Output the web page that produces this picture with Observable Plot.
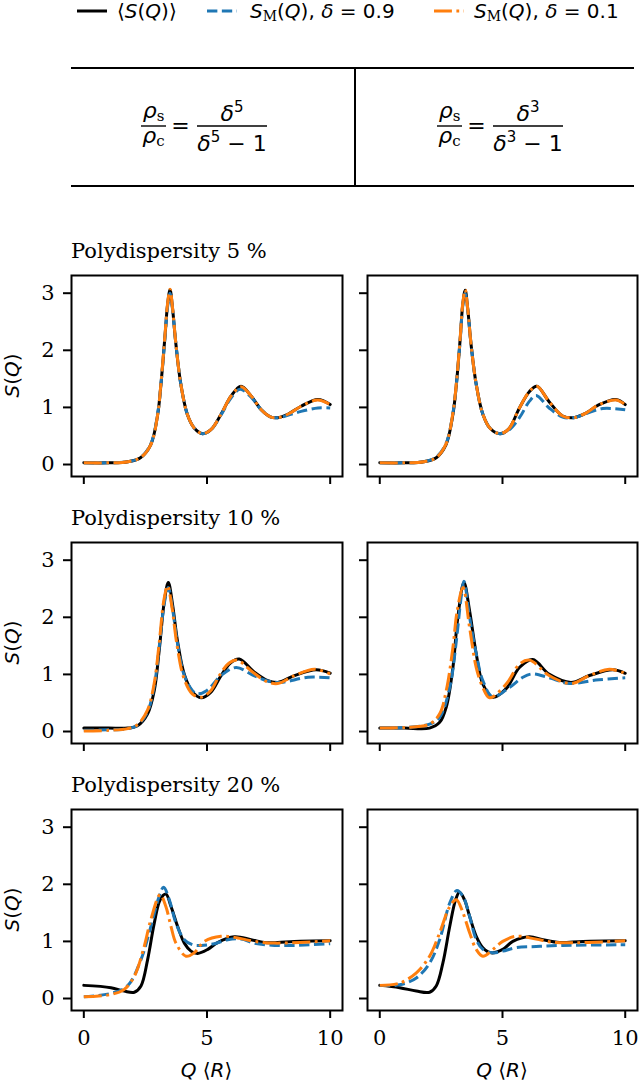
<!DOCTYPE html>
<html><head><meta charset="utf-8">
<script src="https://cdn.jsdelivr.net/npm/d3@7"></script>
<script src="https://cdn.jsdelivr.net/npm/@observablehq/plot@0.6"></script>
<style>
html,body{margin:0;padding:0;background:#fff;}
#root{position:relative;width:640px;height:1084px;overflow:hidden;background:#fff;}
#annot{position:absolute;left:0;top:0;pointer-events:none;}
</style></head><body><div id="root"></div>
<script>
// ---- Data: [Q, S(Q)] pairs ----
// Polydispersity 5 %, column delta^5
const black5L = [[0,0.03],[1,0.03],[1.8,0.05],[2.3,0.12],[2.72,0.35],[3.0,0.88],[3.13,1.4],[3.29,2.22],[3.4,2.8],[3.5,3.06],[3.6,2.74],[3.74,2.1],[3.94,1.4],[4.2,0.88],[4.48,0.64],[4.82,0.54],[5.16,0.61],[5.57,0.88],[5.98,1.2],[6.38,1.37],[6.79,1.2],[7.2,0.96],[7.6,0.83],[7.87,0.82],[8.28,0.88],[8.82,1.02],[9.5,1.14],[10,1.05]];
const blue5L = [[0,0.03],[1,0.03],[1.8,0.05],[2.3,0.12],[2.72,0.36],[3.0,0.9],[3.13,1.4],[3.29,2.2],[3.4,2.76],[3.5,3.0],[3.6,2.72],[3.74,2.1],[3.94,1.4],[4.2,0.88],[4.48,0.64],[4.82,0.54],[5.16,0.61],[5.57,0.87],[5.98,1.17],[6.34,1.32],[6.79,1.18],[7.2,0.96],[7.6,0.83],[7.87,0.82],[8.28,0.86],[8.82,0.93],[9.5,0.99],[10,0.99]];
const orange5L = [[0,0.03],[1,0.03],[1.8,0.05],[2.3,0.12],[2.72,0.35],[3.0,0.88],[3.13,1.42],[3.29,2.24],[3.4,2.82],[3.5,3.07],[3.6,2.75],[3.74,2.1],[3.94,1.4],[4.2,0.88],[4.48,0.64],[4.82,0.54],[5.16,0.61],[5.57,0.88],[5.98,1.2],[6.38,1.36],[6.79,1.2],[7.2,0.96],[7.6,0.83],[7.87,0.82],[8.28,0.88],[8.82,1.02],[9.5,1.13],[10,1.05]];
// Polydispersity 5 %, column delta^3
const black5R = [[0,0.03],[1,0.03],[1.8,0.05],[2.3,0.12],[2.7,0.35],[2.98,0.88],[3.12,1.4],[3.28,2.22],[3.38,2.8],[3.48,3.05],[3.58,2.74],[3.72,2.1],[3.93,1.4],[4.2,0.88],[4.5,0.63],[4.9,0.54],[5.25,0.62],[5.69,0.99],[6.1,1.28],[6.4,1.37],[6.9,1.1],[7.45,0.85],[7.9,0.82],[8.4,0.9],[8.9,1.04],[9.62,1.14],[10,1.05]];
const blue5R = [[0,0.03],[1,0.03],[1.8,0.05],[2.3,0.13],[2.7,0.37],[2.98,0.9],[3.12,1.4],[3.28,2.2],[3.38,2.78],[3.48,3.0],[3.58,2.72],[3.72,2.1],[3.93,1.4],[4.2,0.88],[4.5,0.63],[4.9,0.54],[5.25,0.6],[5.69,0.82],[6.1,1.11],[6.37,1.21],[6.9,0.99],[7.45,0.83],[7.9,0.82],[8.4,0.89],[9.08,0.98],[10,0.96]];
const orange5R = [[0,0.03],[1,0.03],[1.8,0.05],[2.3,0.12],[2.7,0.36],[2.98,0.9],[3.12,1.42],[3.28,2.24],[3.38,2.82],[3.48,3.06],[3.58,2.74],[3.72,2.1],[3.93,1.4],[4.2,0.88],[4.5,0.63],[4.9,0.54],[5.25,0.62],[5.69,0.99],[6.1,1.28],[6.4,1.37],[6.9,1.1],[7.45,0.85],[7.9,0.82],[8.4,0.9],[8.9,1.04],[9.62,1.13],[10,1.05]];
// Polydispersity 10 %, column delta^5
const black10L = [[0,0.06],[1,0.06],[1.78,0.06],[2.18,0.1],[2.59,0.31],[2.86,0.72],[3.06,1.42],[3.27,2.29],[3.43,2.61],[3.6,2.23],[3.8,1.59],[4.08,1.0],[4.42,0.69],[4.76,0.59],[5.16,0.69],[5.57,0.98],[5.95,1.2],[6.31,1.27],[6.92,1.04],[7.47,0.89],[7.87,0.86],[8.55,0.98],[9.43,1.08],[10,1.02]];
const blue10L = [[0,0.02],[1,0.03],[1.78,0.05],[2.18,0.11],[2.59,0.35],[2.86,0.8],[3.06,1.48],[3.27,2.25],[3.43,2.52],[3.6,2.15],[3.8,1.55],[4.08,0.98],[4.42,0.71],[4.62,0.66],[5.0,0.72],[5.57,0.98],[6.18,1.12],[6.9,0.98],[7.5,0.88],[8.0,0.86],[9.1,0.95],[10,0.94]];
const orange10L = [[0,0.01],[1,0.02],[1.78,0.05],[2.18,0.12],[2.59,0.38],[2.86,0.85],[3.06,1.55],[3.25,2.3],[3.4,2.55],[3.57,2.2],[3.78,1.52],[4.05,0.95],[4.4,0.66],[4.76,0.6],[5.16,0.72],[5.5,0.98],[5.9,1.2],[6.22,1.25],[6.8,1.06],[7.4,0.88],[7.87,0.84],[8.55,0.98],[9.36,1.09],[10,1.01]];
// Polydispersity 10 %, column delta^3
const black10R = [[0,0.06],[1,0.06],[2.03,0.06],[2.44,0.16],[2.71,0.43],[2.98,1.12],[3.18,2.0],[3.43,2.61],[3.66,2.11],[3.93,1.36],[4.2,0.83],[4.6,0.6],[5.15,0.75],[5.69,1.12],[6.23,1.26],[6.91,1.0],[7.79,0.86],[8.54,0.98],[9.49,1.08],[10,1.02]];
const blue10R = [[0,0.06],[1,0.07],[2.03,0.13],[2.44,0.25],[2.85,0.77],[3.12,1.59],[3.3,2.3],[3.43,2.63],[3.66,2.0],[3.93,1.36],[4.2,0.89],[4.6,0.61],[5.28,0.77],[5.83,0.95],[6.23,1.01],[6.91,0.94],[7.72,0.84],[8.8,0.9],[10,0.94]];
const orange10R = [[0,0.06],[1,0.07],[2.03,0.13],[2.44,0.31],[2.71,0.72],[2.98,1.47],[3.15,2.1],[3.39,2.52],[3.66,1.82],[3.93,1.12],[4.2,0.77],[4.47,0.59],[5.15,0.83],[5.69,1.18],[6.1,1.25],[6.9,0.98],[7.79,0.84],[8.54,0.98],[9.35,1.09],[10,1.02]];
// Polydispersity 20 %, column delta^5
const black20L = [[0,0.23],[1.1,0.19],[1.64,0.13],[2.05,0.11],[2.32,0.22],[2.59,0.68],[2.86,1.32],[3.1,1.73],[3.33,1.83],[3.54,1.61],[3.81,1.26],[4.08,0.97],[4.35,0.83],[4.62,0.79],[5.03,0.86],[5.43,0.98],[6.11,1.08],[6.79,1.03],[7.33,0.98],[7.87,0.98],[8.55,1.0],[10,1.01]];
const blue20L = [[0,0.03],[1.1,0.09],[1.77,0.22],[2.32,0.68],[2.72,1.26],[3.06,1.79],[3.24,1.95],[3.47,1.73],[3.74,1.32],[4.08,1.03],[4.42,0.94],[4.76,0.93],[5.3,0.96],[5.84,1.03],[6.38,1.04],[6.92,0.97],[7.74,0.93],[8.55,0.93],[10,0.96]];
const orange20L = [[0,0.03],[1.1,0.07],[1.64,0.16],[2.05,0.39],[2.45,0.91],[2.72,1.38],[3.1,1.82],[3.33,1.61],[3.54,1.26],[3.74,0.97],[4.15,0.74],[4.48,0.8],[4.89,1.0],[5.57,1.09],[6.25,1.06],[6.92,1.0],[7.74,0.97],[10,1.01]];
// Polydispersity 20 %, column delta^3
const black20R = [[0,0.23],[0.81,0.19],[1.49,0.13],[2.03,0.11],[2.3,0.22],[2.57,0.62],[2.85,1.26],[3.09,1.73],[3.25,1.86],[3.45,1.73],[3.66,1.44],[3.93,1.09],[4.2,0.89],[4.54,0.8],[5.01,0.86],[5.42,1.0],[6.1,1.08],[6.64,1.03],[7.32,0.98],[8.27,1.0],[10,1.01]];
const blue20R = [[0,0.23],[0.81,0.24],[1.49,0.36],[2.03,0.62],[2.44,1.03],[2.85,1.67],[3.14,1.89],[3.39,1.79],[3.66,1.44],[3.93,1.03],[4.2,0.86],[4.61,0.8],[5.01,0.83],[5.56,0.89],[6.37,0.91],[7.45,0.93],[10,0.94]];
const orange20R = [[0,0.23],[0.81,0.27],[1.49,0.45],[2.03,0.74],[2.44,1.15],[2.85,1.61],[3.12,1.73],[3.39,1.5],[3.66,1.15],[3.93,0.86],[4.2,0.74],[4.61,0.86],[5.01,1.0],[5.56,1.09],[6.37,1.04],[7.18,0.98],[10,1.01]];

const polydispersities = ["5", "10", "20"];
const xTicks = [0, 5, 10];
const yTicks = [0, 1, 2, 3];
const xDomain = [-0.5, 10.5];
const yDomain = [-0.21, 3.31];
const seriesColors = {black: "#000000", blue: "#1f77b4", orange: "#ff7f0e"};

const panelData = [
  [{black: black5L, blue: blue5L, orange: orange5L}, {black: black5R, blue: blue5R, orange: orange5R}],
  [{black: black10L, blue: blue10L, orange: orange10L}, {black: black10R, blue: blue10R, orange: orange10R}],
  [{black: black20L, blue: blue20L, orange: orange20L}, {black: black20R, blue: blue20R, orange: orange20R}]
];

// ---- Layout ----
const root = document.getElementById("root");
const rowTops = [275, 542, 809];
const frameH = 201;
const LW = 3;
const dashA = [3.7 * 2.8, 1.6 * 2.8].join(",");
const dashDot = [6.4 * 2.8, 1.6 * 2.8, 1.0 * 2.8, 1.6 * 2.8].join(",");

function makePanel(row, col) {
  const left = col === 0, bottom = row === 2;
  const mL = left ? 71 : 21, mR = left ? 4 : 3;
  const W = left ? 346 : 294;
  const mT = 2, mB = bottom ? 74 : 12;
  const p = panelData[row][col];
  const acc = {x: d => d[0], y: d => d[1]};
  const chart = Plot.plot({
    width: W, height: mT + frameH + mB,
    marginLeft: mL, marginRight: mR, marginTop: mT, marginBottom: mB,
    x: {domain: xDomain, label: null},
    y: {domain: yDomain, label: null},
    style: {fontFamily: "'DejaVu Serif', serif", fontSize: "21px", background: "transparent", overflow: "visible", color: "#000"},
    marks: [
      Plot.axisX({ticks: xTicks, tickSize: 8, tickPadding: 12, strokeWidth: 2, label: null,
        tickFormat: bottom ? d => String(d) : () => "", fontSize: 21}),
      Plot.axisY({ticks: yTicks, tickSize: 8, tickPadding: 9, strokeWidth: 2, label: null,
        tickFormat: left ? d => String(d) : () => "", fontSize: 21}),
      Plot.line(p.black, {...acc, stroke: seriesColors.black, strokeWidth: LW, curve: "catmull-rom"}),
      Plot.line(p.blue, {...acc, stroke: seriesColors.blue, strokeWidth: LW, strokeDasharray: dashA, strokeLinecap: "butt", curve: "catmull-rom"}),
      Plot.line(p.orange, {...acc, stroke: seriesColors.orange, strokeWidth: LW, strokeDasharray: dashDot, strokeLinecap: "butt", curve: "catmull-rom"}),
      Plot.frame({stroke: "#000", strokeWidth: 2})
    ]
  });
  chart.style.position = "absolute";
  chart.style.left = (left ? 0 : 346) + "px";
  chart.style.top = (rowTops[row] - mT) + "px";
  root.appendChild(chart);
}
for (let r = 0; r < 3; r++) for (let c = 0; c < 2; c++) makePanel(r, c);

// ---- Annotations (legend, table, titles, axis labels) ----
const sans = "'DejaVu Sans', sans-serif";
const serif = "'DejaVu Serif', serif";
function fraction(cxS, cxB, sup) {
  return `
  <text x="${cxS}" y="118" text-anchor="middle" font-family="${sans}" font-size="22"><tspan font-style="italic">ρ</tspan><tspan font-family="${serif}" font-size="15" dy="3">s</tspan></text>
  <line x1="${cxS - 12.5}" x2="${cxS + 12.5}" y1="126" y2="126" stroke="#000" stroke-width="1.4"/>
  <text x="${cxS}" y="143" text-anchor="middle" font-family="${sans}" font-size="22"><tspan font-style="italic">ρ</tspan><tspan font-family="${serif}" font-size="15" dy="3">c</tspan></text>
  <text x="${cxS + 27}" y="133" text-anchor="middle" font-family="${sans}" font-size="22">=</text>
  <text x="${cxB}" y="121" text-anchor="middle" font-family="${sans}" font-size="22"><tspan font-style="italic">δ</tspan><tspan font-size="15" dy="-9">${sup}</tspan></text>
  <line x1="${cxB - 35}" x2="${cxB + 35}" y1="126" y2="126" stroke="#000" stroke-width="1.4"/>
  <text x="${cxB}" y="151" text-anchor="middle" font-family="${sans}" font-size="22"><tspan font-style="italic">δ</tspan><tspan font-size="15" dy="-9">${sup}</tspan><tspan dy="9"> − 1</tspan></text>`;
}
let svg = `<svg id="annot" width="640" height="1084" xmlns="http://www.w3.org/2000/svg">
  <line x1="77" x2="107" y1="11" y2="11" stroke="${seriesColors.black}" stroke-width="${LW}"/>
  <text x="117" y="17.5" font-family="${sans}" font-size="20">⟨<tspan font-style="italic">S</tspan>(<tspan font-style="italic">Q</tspan>)⟩</text>
  <line x1="207" x2="237" y1="11" y2="11" stroke="${seriesColors.blue}" stroke-width="${LW}" stroke-dasharray="${dashA}"/>
  <text x="250" y="17.5" font-family="${sans}" font-size="20"><tspan font-style="italic">S</tspan><tspan font-family="${serif}" font-size="14" dy="3">M</tspan><tspan dy="-3">(</tspan><tspan font-style="italic">Q</tspan>),  <tspan font-style="italic">δ</tspan> = 0.9</text>
  <line x1="434" x2="464" y1="11" y2="11" stroke="${seriesColors.orange}" stroke-width="${LW}" stroke-dasharray="${dashDot}"/>
  <text x="474" y="17.5" font-family="${sans}" font-size="20"><tspan font-style="italic">S</tspan><tspan font-family="${serif}" font-size="14" dy="3">M</tspan><tspan dy="-3">(</tspan><tspan font-style="italic">Q</tspan>),  <tspan font-style="italic">δ</tspan> = 0.1</text>
  <line x1="71" x2="634" y1="68" y2="68" stroke="#000" stroke-width="2"/>
  <line x1="71" x2="634" y1="186" y2="186" stroke="#000" stroke-width="2"/>
  <line x1="355" x2="355" y1="68" y2="186" stroke="#000" stroke-width="2"/>
  ${fraction(153.5, 232, "5")}
  ${fraction(449.5, 528, "3")}
`;
polydispersities.forEach((pd, r) => {
  svg += `<text x="71" y="${rowTops[r] - 17}" font-family="${serif}" font-size="21">Polydispersity ${pd} %</text>`;
  const cy = rowTops[r] + frameH / 2;
  svg += `<text transform="translate(19,${cy}) rotate(-90)" text-anchor="middle" font-family="${sans}" font-size="20"><tspan font-style="italic">S</tspan>(<tspan font-style="italic">Q</tspan>)</text>`;
});
[206.5, 502].forEach(cx => {
  svg += `<text x="${cx}" y="1077" text-anchor="middle" font-family="${sans}" font-size="20"><tspan font-style="italic">Q</tspan> ⟨<tspan font-style="italic">R</tspan>⟩</text>`;
});
svg += `</svg>`;
root.insertAdjacentHTML("beforeend", svg);
</script></body></html>
